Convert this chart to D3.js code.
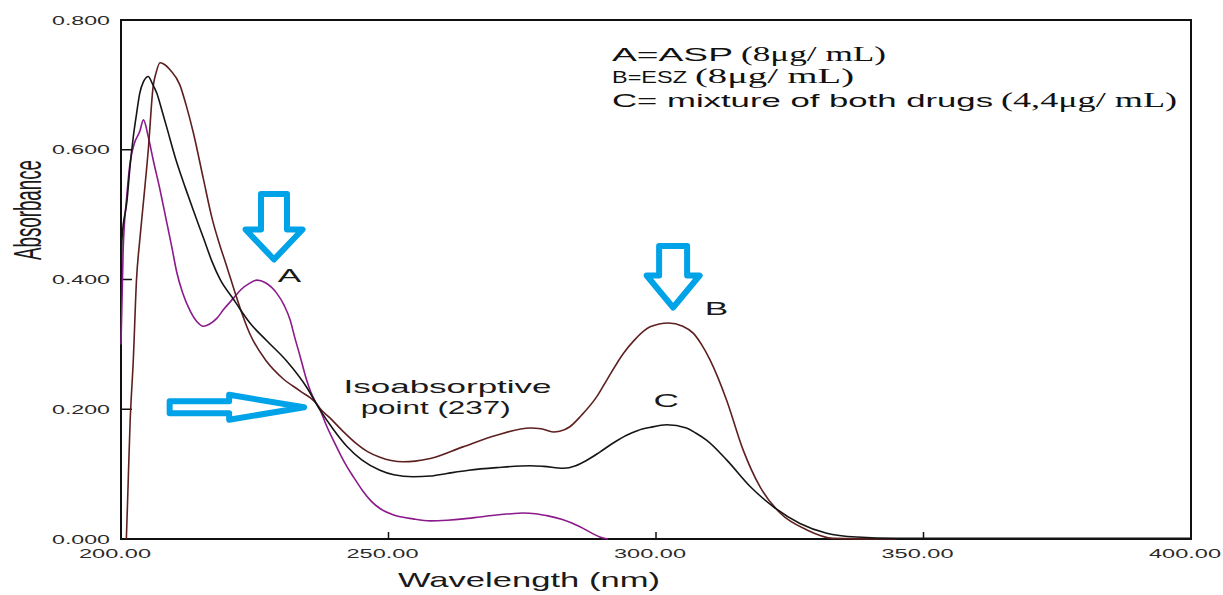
<!DOCTYPE html>
<html>
<head>
<meta charset="utf-8">
<script src="https://cdn.jsdelivr.net/npm/d3@7/dist/d3.min.js"></script>
<style>
  body { margin: 0; background: #fff; }
  text { font-family: "Liberation Sans", Arial, sans-serif; }
</style>
</head>
<body>
<svg id="chart" width="1223" height="595"></svg>
<script>
// Spectres : [longueur d'onde (nm), absorbance]
const aspSpectrum = [
  [200.0, 0.30], [200.4, 0.445], [201.1, 0.53], [201.7, 0.58], [202.5, 0.61],
  [203.5, 0.628], [204.2, 0.646], [205.1, 0.62], [206.0, 0.585], [207.3, 0.538],
  [208.5, 0.49], [209.5, 0.45], [210.4, 0.412], [211.5, 0.38], [212.9, 0.352],
  [214.2, 0.335], [215.4, 0.328], [216.5, 0.331], [217.9, 0.340], [219.2, 0.354],
  [221.0, 0.371], [222.5, 0.385], [224.0, 0.394], [225.4, 0.399], [227.0, 0.395],
  [229.1, 0.379], [230.5, 0.36], [231.6, 0.338], [232.5, 0.31], [233.5, 0.281],
  [234.7, 0.245], [235.4, 0.228], [236.3, 0.212], [237.2, 0.199], [238.5, 0.173],
  [240.0, 0.147], [241.2, 0.127], [242.2, 0.112], [243.5, 0.095], [245.2, 0.074],
  [246.8, 0.058], [248.4, 0.047], [251.0, 0.037], [254.6, 0.031], [257.8, 0.028],
  [261.0, 0.029], [264.0, 0.031], [267.1, 0.034], [270.2, 0.037], [273.0, 0.039],
  [275.1, 0.040], [277.5, 0.039], [279.6, 0.036], [282.5, 0.030], [285.8, 0.019],
  [288.0, 0.009], [289.5, 0.003], [291.0, 0.0]
];

const eszSpectrum = [
  [201.0, 0.0], [201.2, 0.05], [201.7, 0.18], [202.3, 0.276], [202.9, 0.40],
  [203.5, 0.46], [204.2, 0.52], [205.1, 0.60], [206.0, 0.697], [206.6, 0.72],
  [207.3, 0.734], [208.2, 0.731], [209.2, 0.723], [211.0, 0.700], [212.2, 0.668],
  [213.5, 0.627], [215.4, 0.555], [217.0, 0.495], [218.5, 0.452], [219.5, 0.427],
  [220.5, 0.401], [221.5, 0.375], [222.3, 0.355], [224.1, 0.316], [227.2, 0.274],
  [230.3, 0.247], [233.5, 0.228], [236.6, 0.208], [237.2, 0.201], [239.0, 0.187],
  [241.5, 0.166], [244.0, 0.147], [246.0, 0.135], [248.4, 0.126], [250.5, 0.121],
  [252.7, 0.119], [255.0, 0.120], [257.8, 0.124], [263.9, 0.142], [270.2, 0.16],
  [276.5, 0.171], [278.5, 0.170], [280.8, 0.165], [282.0, 0.166], [283.9, 0.173],
  [286.0, 0.19], [288.9, 0.219], [290.8, 0.245], [293.9, 0.286], [296.0, 0.307],
  [298.9, 0.327], [302.3, 0.333], [305.0, 0.328], [307.0, 0.317], [308.5, 0.30],
  [310.1, 0.276], [313.2, 0.214], [316.3, 0.137], [319.4, 0.081], [323.2, 0.040],
  [328.2, 0.014], [333.1, 0.001], [345.0, 0.0]
];

const mixSpectrum = [
  [200.0, 0.41], [200.2, 0.465], [201.1, 0.52], [201.7, 0.575], [202.3, 0.62],
  [202.9, 0.655], [203.5, 0.687], [204.2, 0.705], [205.1, 0.713], [205.8, 0.703],
  [206.7, 0.687], [207.6, 0.662], [208.5, 0.636], [210.4, 0.581], [212.0, 0.542],
  [213.5, 0.507], [215.5, 0.462], [217.0, 0.428], [218.6, 0.399], [221.0, 0.370],
  [222.2, 0.355], [224.1, 0.333], [227.2, 0.306], [231.0, 0.274], [234.7, 0.234],
  [237.2, 0.199], [239.6, 0.170], [242.2, 0.143], [245.0, 0.122], [248.4, 0.106],
  [251.0, 0.099], [254.6, 0.096], [257.8, 0.097], [260.9, 0.101], [265.0, 0.106],
  [270.2, 0.110], [276.5, 0.113], [279.0, 0.112], [282.7, 0.109], [285.0, 0.113],
  [287.0, 0.121], [289.5, 0.134], [292.0, 0.148], [294.5, 0.160], [296.5, 0.167],
  [298.9, 0.172], [302.0, 0.176], [305.7, 0.171], [307.5, 0.163], [309.5, 0.152],
  [313.2, 0.122], [317.6, 0.081], [321.9, 0.050], [326.9, 0.024], [331.9, 0.009],
  [337.5, 0.003], [345.0, 0.001], [400.0, 0.001]
];

const xTicks = [200, 250, 300, 350, 400];
const yTicks = [0, 0.2, 0.4, 0.6, 0.8];

const legendLines = [
  ["A=ASP", "(8\u03bcg/ mL)"],
  ["B=ESZ", "(8\u03bcg/ mL)"],
  ["C= mixture of both drugs", "(4,4\u03bcg/ mL)"]
];

// étiquettes des courbes (position en unités des données)
const curveLabels = [
  { text: "A", wl: 231.5, abs: 0.396 },
  { text: "B", wl: 311.3, abs: 0.345 },
  { text: "C", wl: 301.9, abs: 0.203 }
];
const isoText = ["Isoabsorptive", "point (237)"];

// flèches (pointe en unités des données)
const arrows = [
  { wl: 228.6, abs: 0.427, dir: "down", len: 73, head: 35, shaft: 31, width: 62 },
  { wl: 303.2, abs: 0.353, dir: "down", len: 69, head: 37, shaft: 33, width: 58 },
  { wl: 234.7, abs: 0.203, dir: "right", len: 142, head: 80, shaft: 17, width: 30 }
];

const series = [
  { name: "ASP", data: aspSpectrum, color: "#8b1a8b" },
  { name: "ESZ", data: eszSpectrum, color: "#5e1f1f" },
  { name: "mix", data: mixSpectrum, color: "#151515" }
];

const svg = d3.select("#chart");
const plotL = 121, plotR = 1191, plotT = 20, plotB = 539;

const x = d3.scaleLinear().domain([200, 400]).range([plotL, plotR]);
const y = d3.scaleLinear().domain([0, 0.8]).range([plotB, plotT]);

// cadre
svg.append("rect")
  .attr("x", plotL).attr("y", plotT)
  .attr("width", plotR - plotL).attr("height", plotB - plotT)
  .attr("fill", "none").attr("stroke", "#111").attr("stroke-width", 2);

// graduations intérieures
svg.selectAll(".ytick")
  .data(yTicks.filter(d => d > 0 && d < 0.8))
  .enter().append("line")
  .attr("x1", plotL).attr("x2", plotL + 11)
  .attr("y1", d => y(d)).attr("y2", d => y(d))
  .attr("stroke", "#111").attr("stroke-width", 1.5);

svg.selectAll(".xtick")
  .data(xTicks.filter(d => d > 200 && d < 400))
  .enter().append("line")
  .attr("x1", d => x(d)).attr("x2", d => x(d))
  .attr("y1", plotB).attr("y2", plotB - 7)
  .attr("stroke", "#111").attr("stroke-width", 1.5);

// libellés des axes (texte étiré comme l'original)
svg.selectAll(".ylab")
  .data(yTicks)
  .enter().append("text")
  .attr("x", 52)
  .attr("y", d => y(d) + 4.5)
  .attr("font-size", 12)
  .attr("fill", "#2a2a2a")
  .attr("textLength", 58)
  .attr("lengthAdjust", "spacingAndGlyphs")
  .text(d3.format(".3f"));

svg.selectAll(".xlab")
  .data(xTicks)
  .enter().append("text")
  .attr("x", d => x(d) - 6 - 36)
  .attr("y", 558)
  .attr("font-size", 12)
  .attr("fill", "#2a2a2a")
  .attr("textLength", 72)
  .attr("lengthAdjust", "spacingAndGlyphs")
  .text(d3.format(".2f"));

svg.append("text")
  .attr("x", 398).attr("y", 587)
  .attr("font-size", 21)
  .attr("fill", "#1a1a1a")
  .attr("textLength", 262)
  .attr("lengthAdjust", "spacingAndGlyphs")
  .text("Wavelength (nm)");

svg.append("text")
  .attr("transform", "translate(41,260) rotate(-90)")
  .attr("font-size", 38)
  .attr("fill", "#1a1a1a")
  .attr("textLength", 100)
  .attr("lengthAdjust", "spacingAndGlyphs")
  .text("Absorbance");

// courbes
const line = d3.line()
  .x(d => x(d[0]))
  .y(d => y(d[1]))
  .curve(d3.curveMonotoneX);

series.forEach(s => {
  svg.append("path")
    .datum(s.data)
    .attr("fill", "none")
    .attr("stroke", s.color)
    .attr("stroke-width", 1.6)
    .attr("stroke-linejoin", "round")
    .attr("d", line);
});

// flèches bleues
function arrowPath(a) {
  const sw = 5;
  const L = a.len - sw, hl = a.head - sw / 2;
  const s = (a.shaft - sw) / 2, h = (a.width - sw) / 2;
  const pts = [[-L, -s], [-hl, -s], [-hl, -h], [-sw / 2, 0], [-hl, h], [-hl, s], [-L, s]];
  const mapped = a.dir === "down" ? pts.map(p => [p[1], p[0]]) : pts;
  return "M" + mapped.map(p => p.join(",")).join("L") + "Z";
}

arrows.forEach(a => {
  svg.append("path")
    .attr("transform", `translate(${x(a.wl)},${y(a.abs)})`)
    .attr("d", arrowPath(a))
    .attr("fill", "#fff")
    .attr("stroke", "#00a2e8")
    .attr("stroke-width", 6)
    .attr("stroke-linejoin", "round");
});

// étiquettes A, B, C
svg.selectAll(".clab")
  .data(curveLabels)
  .enter().append("text")
  .attr("x", d => x(d.wl))
  .attr("y", d => y(d.abs))
  .attr("text-anchor", "middle")
  .attr("font-size", 19)
  .attr("fill", "#1a1a1a")
  .attr("transform", d => `translate(${x(d.wl)},0) scale(1.85,1) translate(${-x(d.wl)},0)`)
  .text(d => d.text);

svg.append("text")
  .attr("x", x(241.6)).attr("y", 393)
  .attr("font-size", 19).attr("fill", "#1a1a1a")
  .attr("textLength", 208).attr("lengthAdjust", "spacingAndGlyphs")
  .text(isoText[0]);
svg.append("text")
  .attr("x", x(244.8)).attr("y", 414)
  .attr("font-size", 19).attr("fill", "#1a1a1a")
  .attr("textLength", 150).attr("lengthAdjust", "spacingAndGlyphs")
  .text(isoText[1]);

// légende en haut à droite
const legendLayout = [
  { y: 61, size: 19, a: [612, 121], b: [741, 145] },
  { y: 83, size: 16.5, a: [612, 75], b: [695, 159] },
  { y: 107, size: 19, a: [612, 381], b: [1001, 176] }
];

legendLines.forEach((parts, i) => {
  const L = legendLayout[i];
  svg.append("text")
    .attr("x", L.a[0]).attr("y", L.y)
    .attr("font-size", L.size).attr("fill", "#111")
    .attr("textLength", L.a[1]).attr("lengthAdjust", "spacingAndGlyphs")
    .text(parts[0]);
  svg.append("text")
    .attr("x", L.b[0]).attr("y", L.y)
    .attr("font-size", 20).attr("fill", "#111")
    .style("font-family", "'Liberation Serif', 'Times New Roman', serif")
    .attr("textLength", L.b[1]).attr("lengthAdjust", "spacingAndGlyphs")
    .text(parts[1]);
});
</script>
</body>
</html>
